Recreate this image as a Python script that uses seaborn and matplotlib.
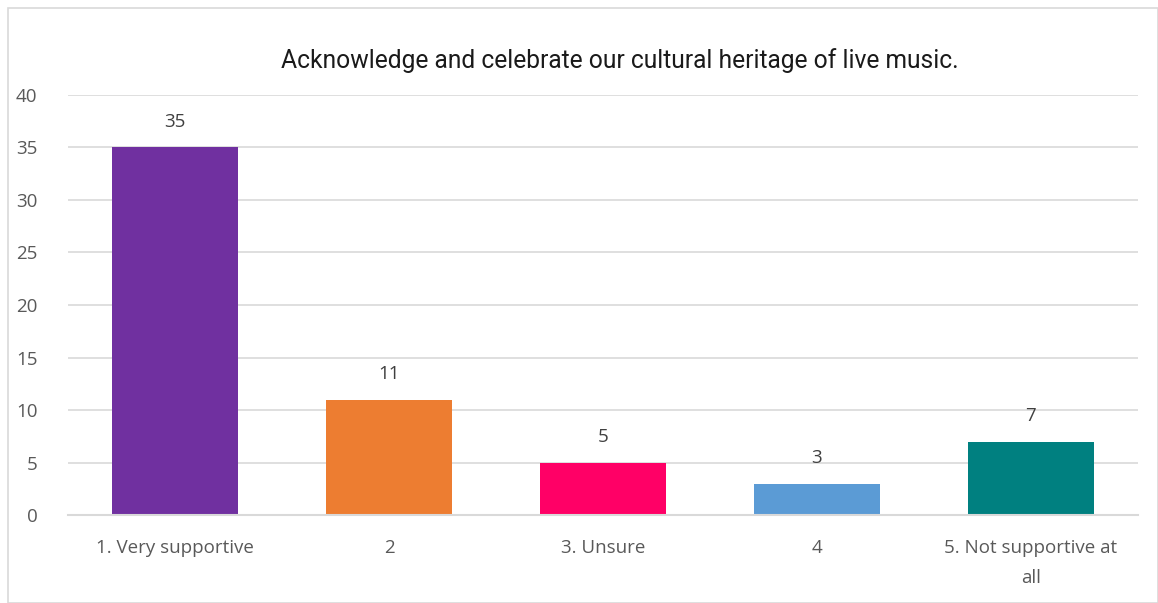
import pandas as pd
import matplotlib.pyplot as plt
import seaborn as sns
from matplotlib.patches import Rectangle

# survey responses
categories = ['1. Very supportive', '2', '3. Unsure', '4', '5. Not supportive at\nall']
counts = [35, 11, 5, 3, 7]
colors = ['#7030A0', '#ED7D31', '#FF0066', '#5B9BD5', '#008080']
yticks = [0, 5, 10, 15, 20, 25, 30, 35, 40]

df = pd.DataFrame({'category': categories, 'count': counts})

sns.set_style('white')
plt.rcParams['font.family'] = ['Open Sans', 'DejaVu Sans']

fig = plt.figure(figsize=(11.58, 6.03), dpi=100)
ax = fig.add_axes([0.0587, 0.1459, 0.924, 0.6966])

sns.barplot(data=df, x='category', y='count', hue='category',
            palette=colors, legend=False, width=0.59, saturation=1,
            linewidth=0, ax=ax)

for c in ax.containers:
    ax.bar_label(c, padding=12, fontsize=13.5, color='#404040')

ax.set_ylim(0, 40)
ax.set_xlim(-0.5, 4.5)
ax.set_yticks(yticks)
ax.yaxis.grid(True, color='#D9D9D9', linewidth=1.2)
ax.set_axisbelow(True)
for s in ['top', 'right', 'left']:
    ax.spines[s].set_visible(False)
ax.spines['bottom'].set_color('#D9D9D9')
ax.spines['bottom'].set_linewidth(1.5)
ax.tick_params(axis='both', length=0, labelsize=13.5, labelcolor='#595959')
ax.tick_params(axis='x', pad=17)
ax.tick_params(axis='y', pad=22)
for lab in ax.get_xticklabels():
    lab.set_linespacing(1.85)
ax.set_xlabel('')
ax.set_ylabel('')

fig.text(0.535, 0.9, 'Acknowledge and celebrate our cultural heritage of live music.',
         ha='center', va='center', fontsize=17.7, color='#1a1a1a',
         family=['Roboto', 'DejaVu Sans'])

# chart frame
fig.patches.append(Rectangle((0.007, 0.0), 0.993, 0.987, transform=fig.transFigure,
                             fill=False, edgecolor='#D9D9D9', linewidth=1.2))

fig.savefig('out.png', dpi=100)
